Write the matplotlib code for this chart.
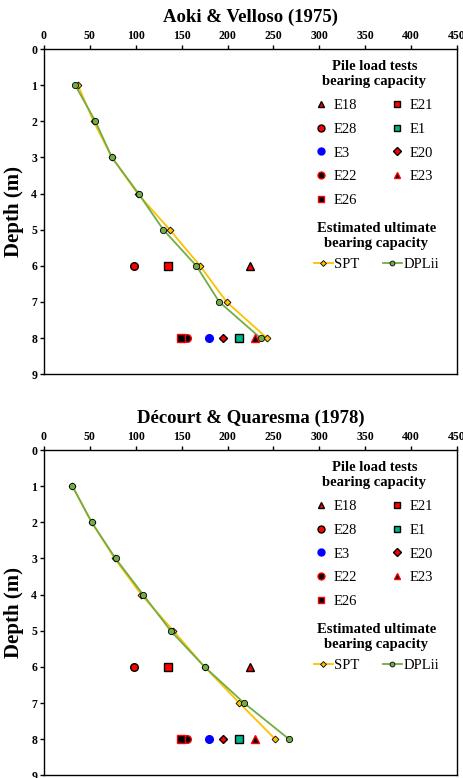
import numpy as np
import matplotlib
matplotlib.use("Agg")
import matplotlib.pyplot as plt
from matplotlib.lines import Line2D

plt.rcParams['font.family'] = ['Liberation Serif', 'DejaVu Serif']

# depths (m)
depth = [1, 2, 3, 4, 5, 6, 7, 8]

# Aoki & Velloso (1975) estimated ultimate bearing capacity
aoki_spt = [37, 54, 74, 102, 137, 170, 199, 243]
aoki_dpl = [34, 56, 74, 103, 130, 166, 191, 236]

# Decourt & Quaresma (1978)
decourt_spt = [31, 52, 77, 106, 141, 175, 213, 252]
decourt_dpl = [31, 52, 78, 108, 138, 175, 218, 267]

# pile load tests: name, capacity, depth
piles = ['E18', 'E21', 'E28', 'E1', 'E3', 'E20', 'E22', 'E23', 'E26']
pile_cap = [225, 135, 98, 212, 180, 195, 156, 230, 149]
pile_depth = [6, 6, 6, 8, 8, 8, 8, 8, 8]

# marker, face, edge
pile_style = {
    'E18': ('^', 'red', 'black'),
    'E21': ('s', 'red', 'black'),
    'E28': ('o', 'red', 'black'),
    'E1': ('s', '#00B386', 'black'),
    'E3': ('o', '#0000FF', '#0000FF'),
    'E20': ('D', 'red', 'black'),
    'E22': ('o', 'black', 'red'),
    'E23': ('^', 'black', 'red'),
    'E26': ('s', 'black', 'red'),
}

SPT_C = '#FFC000'
DPL_C = '#70AD47'

fig = plt.figure(figsize=(4.64, 7.78), dpi=100)
ax1 = fig.add_axes([0.0948, 0.519, 0.890, 0.418])
ax2 = fig.add_axes([0.0948, 0.0035, 0.890, 0.418])

def draw(ax, title, spt, dpl):
    ax.plot(spt, depth, color=SPT_C, lw=1.3, marker='D', ms=3.5,
            mfc=SPT_C, mec='black', mew=0.6, zorder=3)
    ax.plot(dpl, depth, color=DPL_C, lw=1.3, marker='o', ms=4.5,
            mfc=DPL_C, mec='black', mew=0.6, zorder=3)
    handles = []
    for name, c, d in zip(piles, pile_cap, pile_depth):
        m, fc, ec = pile_style[name]
        ms = 4.5 if m == 'D' else 5.5
        ax.plot([c], [d], ls='none', marker=m, ms=ms, mfc=fc, mec=ec, mew=1.0, zorder=4)
        handles.append(Line2D([], [], ls='none', marker=m, ms=ms - 0.5, mfc=fc, mec=ec, mew=1.0, label=name))

    ax.set_xlim(0, 450)
    ax.set_ylim(9, 0)
    ax.xaxis.set_ticks_position('top')
    ax.set_xticks(np.arange(0, 451, 50))
    ax.set_yticks(range(0, 10))
    ax.tick_params(axis='both', direction='out', length=3, width=1, labelsize=8.5, pad=2)
    for lab in ax.get_xticklabels() + ax.get_yticklabels():
        lab.set_fontweight('bold')
    for s in ax.spines.values():
        s.set_linewidth(1.0)
    ax.set_ylabel('Depth (m)', fontsize=15, fontweight='bold', labelpad=5)
    ax.set_title(title, fontsize=13.5, fontweight='bold', pad=6)

    # reorder to fill rows: E18 E21 / E28 E1 / E3 E20 / E22 E23 / E26
    col1 = [handles[i] for i in (0, 2, 4, 6, 8)]
    col2 = [handles[i] for i in (1, 3, 5, 7)]
    leg1 = ax.legend(handles=col1 + col2, ncol=2, frameon=False,
                     title='Pile load tests\nbearing capacity',
                     title_fontproperties={'weight': 'bold', 'size': 10.5},
                     fontsize=10.5, loc='upper center', bbox_to_anchor=(0.80, 0.983),
                     handlelength=0.8, handletextpad=0.5, columnspacing=2.3,
                     labelspacing=0.72, borderaxespad=0)
    leg1.get_title().set_multialignment('center')
    ax.add_artist(leg1)
    lh = [Line2D([], [], color=SPT_C, lw=1.3, marker='D', ms=3, mfc=SPT_C, mec='black', mew=0.6, label='SPT'),
          Line2D([], [], color=DPL_C, lw=1.3, marker='o', ms=3.5, mfc=DPL_C, mec='black', mew=0.6, label='DPLii')]
    leg2 = ax.legend(handles=lh, ncol=2, frameon=False,
                     title='Estimated ultimate\nbearing capacity',
                     title_fontproperties={'weight': 'bold', 'size': 10.5},
                     fontsize=10.5, loc='upper center', bbox_to_anchor=(0.805, 0.485),
                     handlelength=1.3, handletextpad=0.1, columnspacing=1.6, borderaxespad=0)
    leg2.get_title().set_multialignment('center')

draw(ax1, 'Aoki & Velloso (1975)', aoki_spt, aoki_dpl)
draw(ax2, 'Décourt & Quaresma (1978)', decourt_spt, decourt_dpl)

fig.savefig('out.png', dpi=100)
